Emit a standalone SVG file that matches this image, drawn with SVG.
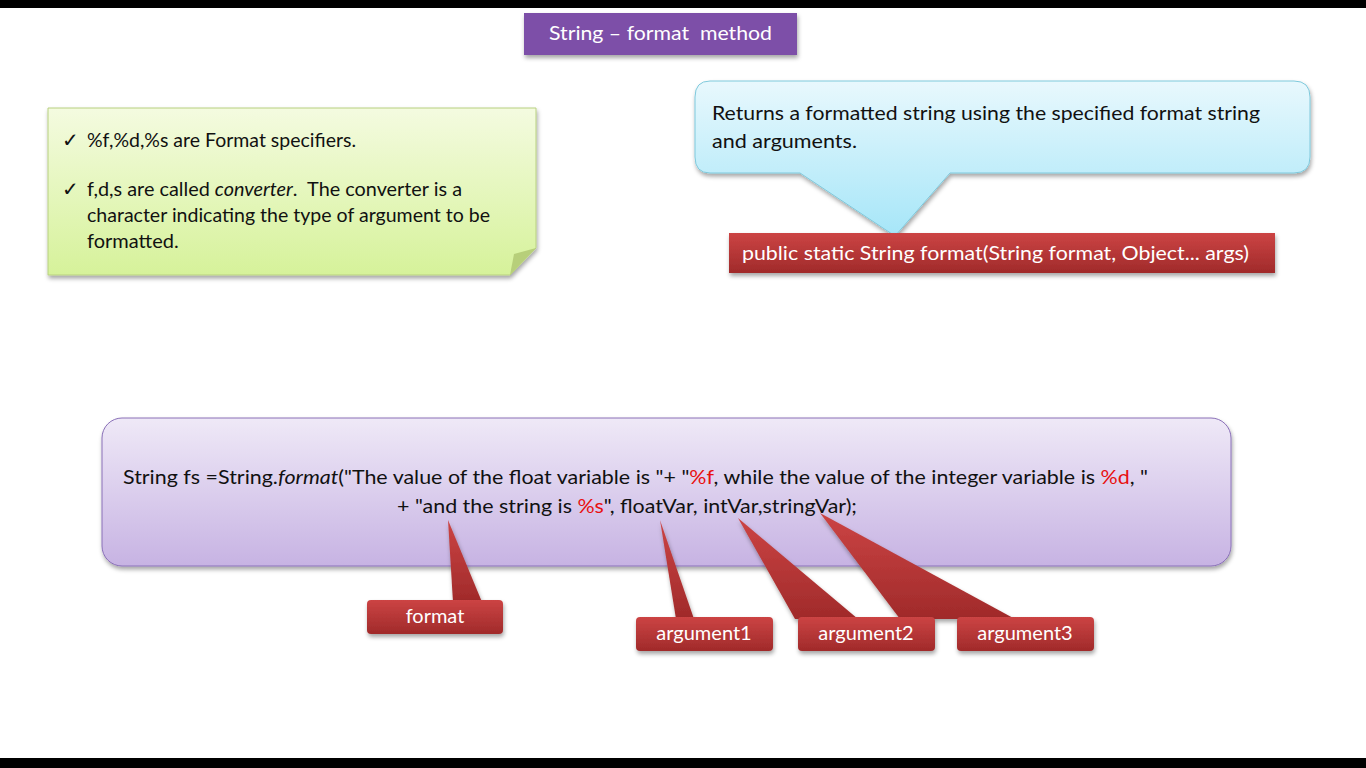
<svg xmlns="http://www.w3.org/2000/svg" width="1366" height="768" viewBox="0 0 1366 768">
<defs>
<linearGradient id="gBlue" x1="0" y1="0" x2="0" y2="1"><stop offset="0" stop-color="#e8f8fd"/><stop offset="1" stop-color="#a6e6f8"/></linearGradient>
<linearGradient id="gGreen" x1="0" y1="0" x2="0" y2="1"><stop offset="0" stop-color="#f4fbe0"/><stop offset="1" stop-color="#d6f29a"/></linearGradient>
<linearGradient id="gPurple" x1="0" y1="0" x2="0" y2="1"><stop offset="0" stop-color="#efe9f7"/><stop offset="1" stop-color="#c7b3e3"/></linearGradient>
<linearGradient id="gRed" x1="0" y1="0" x2="0" y2="1"><stop offset="0" stop-color="#cc4444"/><stop offset="1" stop-color="#a02a2a"/></linearGradient>
<filter id="sh" x="-10%" y="-10%" width="120%" height="140%"><feDropShadow dx="1" dy="3" stdDeviation="2" flood-opacity="0.35"/></filter>
<style>
text{font-family:Lato,"Open Sans","Liberation Sans",sans-serif;font-size:20px;fill:#111}
.w{fill:#fff}
.red{fill:#e81010}
.lbl{fill:url(#gRed);filter:url(#sh)}
</style>
</defs>
<rect width="1366" height="768" fill="#fff"/>
<rect width="1366" height="8" fill="#000"/>
<rect y="758" width="1366" height="10" fill="#000"/>

<g id="title">
<rect x="524" y="13" width="273" height="42" fill="#7d4fa8" filter="url(#sh)"/>
<text x="549" y="40" class="w" xml:space="preserve" textLength="223" lengthAdjust="spacingAndGlyphs">String – format  method</text>
</g>

<g id="note">
<path d="M48,108 H536 V248 L510,275 H48 Z" fill="url(#gGreen)" stroke="#b8d080" filter="url(#sh)"/>
<path d="M536,248 L514,254 L510,275 Z" fill="#b7cf7a"/>
<text x="62" y="147">✓</text><text x="87" y="147" textLength="269" lengthAdjust="spacingAndGlyphs">%f,%d,%s are Format specifiers.</text>
<text x="62" y="196">✓</text><text x="87" y="196" xml:space="preserve" textLength="375" lengthAdjust="spacingAndGlyphs">f,d,s are called <tspan font-style="italic">converter</tspan>.  The converter is a</text>
<text x="87" y="222" textLength="403" lengthAdjust="spacingAndGlyphs">character indicating the type of argument to be</text>
<text x="87" y="248">formatted.</text>
</g>

<g id="desc">
<path d="M710,81 H1294 Q1310,81 1310,97 V157 Q1310,173 1294,173 H950 L895,236 L800,173 H710 Q695,173 695,157 V97 Q695,81 710,81 Z" fill="url(#gBlue)" stroke="#7fc9dc" filter="url(#sh)"/>
<text x="712" y="120" textLength="548" lengthAdjust="spacingAndGlyphs">Returns a formatted string using the specified format string</text>
<text x="712" y="148" textLength="145" lengthAdjust="spacingAndGlyphs">and arguments.</text>
</g>

<g id="signature">
<rect x="729" y="233" width="546" height="40" fill="url(#gRed)" filter="url(#sh)"/>
<text x="742" y="260" class="w" textLength="507" lengthAdjust="spacingAndGlyphs">public static String format(String format, Object... args)</text>
</g>

<g id="code">
<rect x="102" y="418" width="1129" height="148" rx="20" fill="url(#gPurple)" stroke="#8a70b8" filter="url(#sh)"/>
<text x="123" y="484" textLength="1025" lengthAdjust="spacingAndGlyphs">String fs =String.<tspan font-style="italic">format</tspan>("The value of the float variable is "+ "<tspan class="red">%f</tspan>, while the value of the integer variable is <tspan class="red">%d</tspan>, "</text>
<text x="397" y="513" textLength="460" lengthAdjust="spacingAndGlyphs">+ "and the string is <tspan class="red">%s</tspan>", floatVar, intVar,stringVar);</text>
</g>

<g id="connectors">
<path d="M448,520 L453,602 L482,602 Z" class="lbl"/>
<path d="M660,520 L676,619 L694,619 Z" class="lbl"/>
<path d="M738,518 L795,619 L858,619 Z" class="lbl"/>
<path d="M820,513 L900,619 L1015,619 Z" class="lbl"/>
</g>

<g id="format">
<rect x="367" y="600" width="136" height="34" rx="4" class="lbl"/>
<text x="435" y="623" text-anchor="middle" class="w">format</text>
</g>
<g id="argument1">
<rect x="636" y="617" width="137" height="34" rx="4" class="lbl"/>
<text x="704" y="640" text-anchor="middle" class="w">argument1</text>
</g>
<g id="argument2">
<rect x="798" y="617" width="137" height="34" rx="4" class="lbl"/>
<text x="866" y="640" text-anchor="middle" class="w">argument2</text>
</g>
<g id="argument3">
<rect x="957" y="617" width="137" height="34" rx="4" class="lbl"/>
<text x="1025" y="640" text-anchor="middle" class="w">argument3</text>
</g>
</svg>
